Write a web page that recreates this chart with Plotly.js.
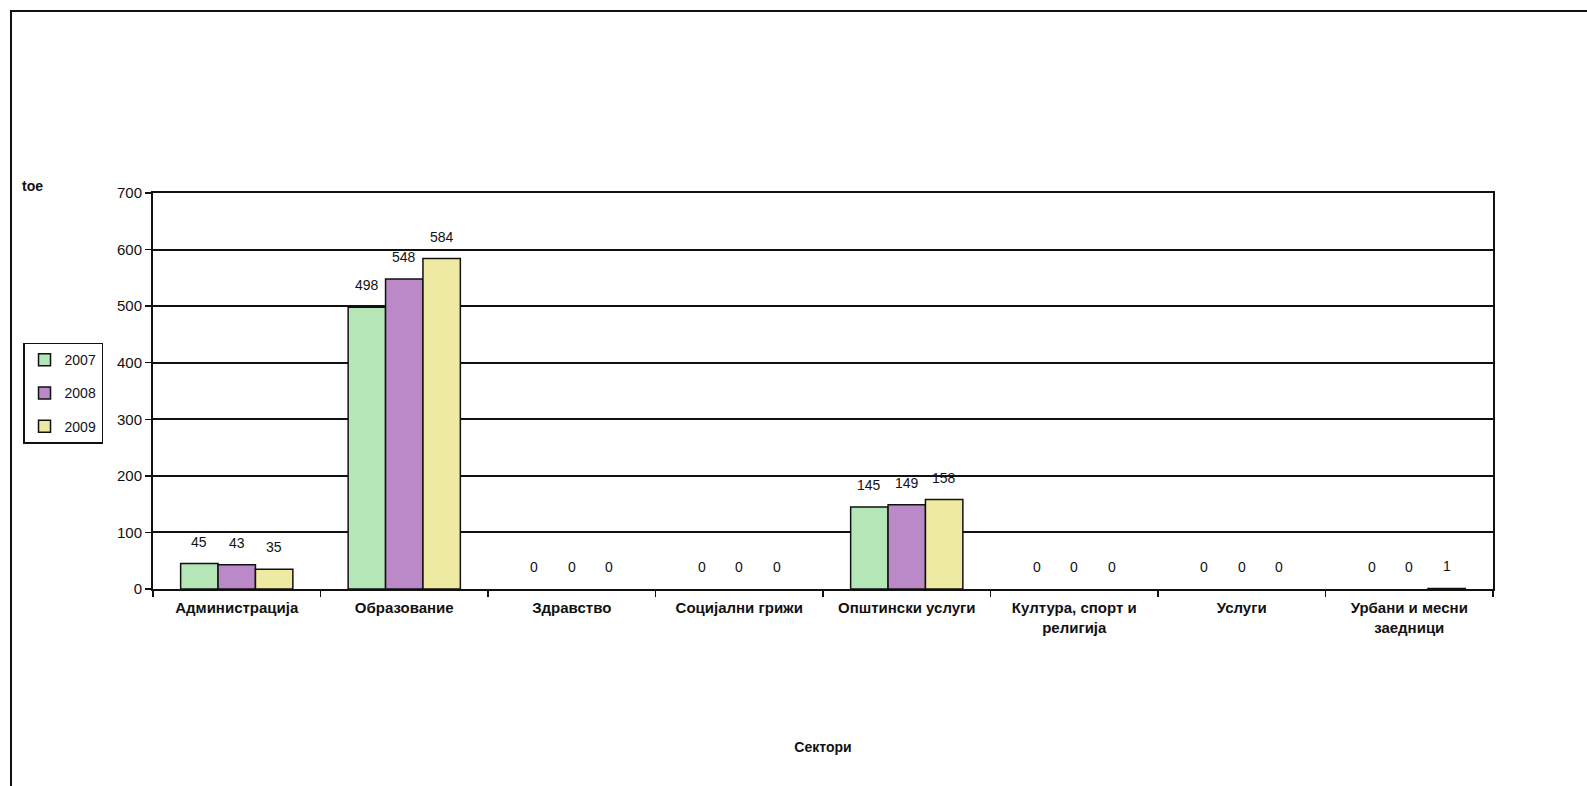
<!DOCTYPE html>
<html>
<head>
<meta charset="utf-8">
<script src="https://cdn.plot.ly/plotly-3.0.1.min.js"></script>
<style>
  html, body { margin: 0; padding: 0; background: #fff; }
  #wrap { position: relative; width: 1587px; height: 786px; overflow: hidden; }
  #chart { position: absolute; left: 0; top: 0; width: 1587px; height: 786px; }
  #frame { position: absolute; left: 10px; top: 10px; width: 1600px; height: 800px;
           border-top: 2px solid #111; border-left: 2px solid #111; pointer-events: none; }
</style>
</head>
<body>
<div id="wrap"><div id="chart"></div><div id="frame"></div></div>
<script>
const categories = ['Администрација', 'Образование', 'Здравство', 'Социјални грижи',
  'Општински услуги', 'Култура, спорт и<br>религија', 'Услуги', 'Урбани и месни<br>заедници'];
const years = ['2007', '2008', '2009'];
const v2007 = [45, 498, 0, 0, 145, 0, 0, 0];
const v2008 = [43, 548, 0, 0, 149, 0, 0, 0];
const v2009 = [35, 584, 0, 0, 158, 0, 0, 1];
const yTicks = [0, 100, 200, 300, 400, 500, 600, 700];

const series = [v2007, v2008, v2009];
const colors = ['#b4e6b8', '#bb88c8', '#eeeaa2'];

const margin = {l: 153, r: 94, t: 193, b: 197};
const plotW = 1587 - margin.l - margin.r;
const bargap = 0.33;
const barW = plotW / categories.length * (1 - bargap) / series.length;

const font = 'Liberation Sans, Arial, sans-serif';

const traces = series.map((vals, i) => ({
  type: 'bar',
  name: years[i],
  x: categories,
  y: vals,
  legendgroup: 'g' + i,
  marker: {color: colors[i], line: {color: '#111', width: vals.map(v => v === 0 ? 0 : 1.5)}},
  hoverinfo: 'none'
}));

const annotations = [];
series.forEach((vals, i) => {
  vals.forEach((v, j) => {
    annotations.push({
      x: categories[j], y: v, xref: 'x', yref: 'y',
      text: String(v), showarrow: false,
      xshift: (i - 1) * barW, yshift: 22,
      font: {family: font, size: 14, color: '#111'}
    });
  });
});
annotations.push({
  xref: 'paper', yref: 'paper', x: -0.09, y: 1.018, xanchor: 'center', yanchor: 'middle',
  text: '<b>toe</b>', showarrow: false, font: {family: font, size: 14, color: '#111'}
});

const layout = {
  width: 1587, height: 786,
  margin: margin,
  paper_bgcolor: '#fff', plot_bgcolor: '#fff',
  barmode: 'group', bargap: bargap, bargroupgap: 0,
  showlegend: true,
  legend: {
    x: -0.097, y: 0.622, xanchor: 'left', yanchor: 'top',
    bordercolor: '#111', borderwidth: 1.5, bgcolor: '#fff',
    font: {family: font, size: 14, color: '#111'},
    tracegroupgap: 12, itemwidth: 30
  },
  xaxis: {
    type: 'category',
    showline: true, linecolor: '#111', linewidth: 2, mirror: true,
    ticks: 'outside', tickson: 'boundaries', ticklen: 6, tickcolor: '#111', tickwidth: 1.5,
    ticklabelstandoff: 4,
    tickfont: {family: font, size: 15, color: '#111', weight: 'bold'},
    showgrid: false,
    title: {text: '<b>Сектори</b>', font: {family: font, size: 14, color: '#111'}, standoff: 108}
  },
  yaxis: {
    range: [0, 700],
    tickvals: yTicks, ticktext: yTicks.map(String),
    showline: true, linecolor: '#111', linewidth: 2, mirror: true,
    ticks: 'outside', ticklen: 6, tickcolor: '#111', tickwidth: 1.5,
    tickfont: {family: font, size: 15, color: '#111'},
    showgrid: true, gridcolor: '#111', gridwidth: 2,
    zeroline: false
  },
  annotations: annotations
};

Plotly.newPlot('chart', traces, layout, {staticPlot: true, displayModeBar: false});
</script>
</body>
</html>
